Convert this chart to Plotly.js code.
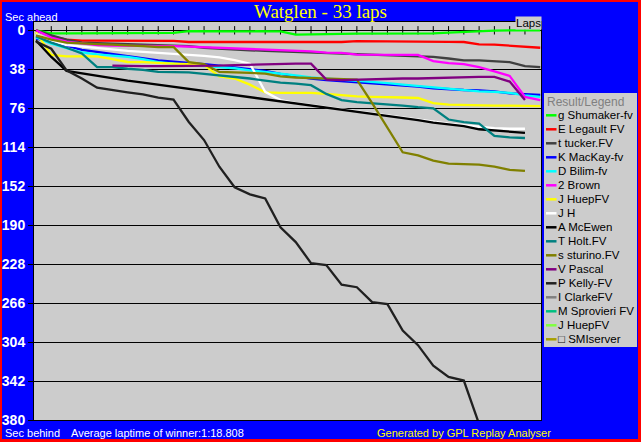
<!DOCTYPE html>
<html><head><meta charset="utf-8">
<script src="https://cdn.plot.ly/plotly-3.0.1.min.js"></script>
<style>
html,body{margin:0;padding:0;background:#0000FF;overflow:hidden}
#wrap{position:relative;width:641px;height:442px}
#chart{position:absolute;left:0;top:0;width:641px;height:442px}
#frame{position:absolute;left:0;top:0;width:641px;height:442px;box-sizing:border-box;border-style:solid;border-color:#FF0000;border-width:2px 3px 3px 2px;pointer-events:none}
</style></head><body>
<div id="wrap"><div id="chart"></div><div id="frame"></div></div>
<script>
// ---- data ----
const laps = [0,1,2,3,4,5,6,7,8,9,10,11,12,13,14,15,16,17,18,19,20,21,22,23,24,25,26,27,28,29,30,31,32,33];
const lapTicks = [1,2,3,4,5,6,7,8,9,10,11,12,13,14,15,16,17,18,19,20,21,22,23,24,25,26,27,28,29,30,31,32];
const yTicks = [0,38,76,114,152,190,228,266,304,342,380];

const names = ['g Shumaker-fv','E Legault FV','t tucker.FV','K MacKay-fv','D Bilim-fv','2 Brown','J HuepFV','J H','A McEwen','T Holt.FV','s sturino.FV','V Pascal','P Kelly-FV','I ClarkeFV','M Sprovieri FV','J HuepFV','\u25A1 SMIserver'];
const colors = ['#00FF00','#FF0000','#404040','#0000FF','#00FFFF','#FF00FF','#FFFF00','#FFFFFF','#000000','#008080','#808000','#800080','#202020','#808080','#00C080','#80FF40','#A8A000'];

const shumaker  = [0,3,3,3,3,3,2.5,2.5,2.5,2.5,0.8,0.8,0.8,0.8,0.8,0.8,1,4.2,4.2,4,3.5,3.3,3.3,3.3,3.5,3.5,3,2.3,1.5,1,0.3,0,0,0];
const legault   = [0,6,9,10,10,10.2,10.4,10.4,10.4,10.4,11.4,11.4,11.4,11.4,11.4,11.4,11.4,11.4,11.4,11.4,11.4,10.6,10.6,10.6,10.8,11,11,11.2,11.4,13.7,14,15,15.5,17];
const tucker    = [0,5,9,12,12.5,13,13.5,14,14.5,15,15.5,17,18,19,19.5,20,20.5,21,21.8,22,23,23.5,24,24.5,24.9,25,26,27.5,29.3,29.3,30,31,35,36];
const mackay    = [8,11,15,19,21,23,25,27,29.3,30.5,31.5,33,34.5,36,38,39.5,42.5,45,47,48.5,49.5,50.5,51.5,52.5,54,55,56.5,57.5,58.2,58.7,59.5,61.5,62.5,63];
const bilim     = [7,13,17.5,21.5,23.5,24.5,26,28,31,32.5,33.5,35,35.8,37,39,40.5,42,44,46,47,48,49,50.4,51.5,53,54.3,55.5,57,58,59.5,60,61,63.4,65];
const brown     = [0,7,11,13,14.5,15,15,15.5,15.5,15.5,16,16.5,17,18,18.5,19,19.5,20,20.5,21.8,22,23.7,23.7,23.7,23.7,24,30,32,33,36,40,44.5,65,68];
const huep      = [2,24,25.4,25.4,25.4,28,30.9,31,32,32.5,33,34,45,47,53,60.5,61,61,61,62,63.5,64.5,65,65,65.5,66,71,72.5,73,73,73.5,73.5,74,74];
const jh        = [4,10,14.5,16,17.5,19,20,21,22,22.8,23.5,25,26.5,29,32.5,60,68,71,73,75,77,79,81,83.5,85.5,87.5,89.5,91,92.5,94,95.5,96,96];
const mcewen    = [10,26,39.5,42,44.5,47,49,51,53,55.5,57.5,59.5,61.5,63,65,67,69.5,71.5,73.5,75.5,77.5,79,81,83.5,85.5,87.5,90,92,93.5,96.5,97.5,98.5,100];
const holt      = [6,12,17,22.5,35.8,36,37.5,38.5,40.6,40.6,41,42.5,44,45,47,49,51,52,53.5,62,68,70,71,72.5,73.5,75,76,87,89.5,91,103,104.5,105];
const sturino   = [5,9,12,13,13.5,14,14.5,15.5,16.3,16.3,31,33,40.6,40.8,41.5,42.3,45,46,46.5,47,47.5,48,71,95,119,122,127,130,130.5,131,133,136,137];
const pascal    = [null,null,null,null,null,34.5,35,35,35,35,35,35,34.5,34,33.5,33.3,33,32.5,32.5,48,48.5,48,47.5,47,47,47,46.5,46,45.5,45.5,45.5,50,68];
const kelly     = [11,18,39,47,56,58.5,60.5,62.5,65.7,67.6,89.4,107,133,153,160,164,192,206.5,227,229,248,250.5,265,267,292.7,307,327,338,341.5,384];
const clarke    = [];
const sprovieri = [];
const huep2     = [];
const smiserver = [];

const seriesList = [shumaker,legault,tucker,mackay,bilim,brown,huep,jh,mcewen,holt,sturino,pascal,kelly,clarke,sprovieri,huep2,smiserver];

// ---- geometry helpers (pixel -> paper) ----
const PL=34, PR=541, PT=22, PB=420;
const fx = px => (px-PL)/(PR-PL);
const fy = py => (PB-py)/(PB-PT);
const SANS = 'Liberation Sans, Arial, sans-serif';

const traces = [{
  type:'scatter', mode:'markers', x: lapTicks, y: lapTicks.map(()=>0),
  marker:{symbol:'line-ns', size:6, color:'#000000', line:{width:1,color:'#000000'}},
  showlegend:false, hoverinfo:'skip'
}];
seriesList.forEach((s,i)=>{
  traces.push({type:'scatter', mode:'lines', x: laps.slice(0,s.length), y: s, name: names[i],
    line:{color:colors[i], width:2.3}, connectgaps:false, showlegend:false, hoverinfo:'skip'});
});

const txt = (t, x, y, opts={}) => Object.assign({text:t, xref:'paper', yref:'paper', x:fx(x), y:fy(y),
  xanchor:'left', yanchor:'middle', showarrow:false, borderpad:0,
  font:{family:SANS, size:11, color:'#FFFFFF'}}, opts);

const annotations = [
  txt('Sec ahead', 4, 16.5),
  txt('Laps', 541.5, 23, {xanchor:'right', bgcolor:'#CCCCCC', font:{family:SANS, size:11.5, color:'#000000'}}),
  txt('Sec behind', 4, 433),
  txt('Average laptime of winner:1:18.808', 70, 433),
  txt('Generated by GPL Replay Analyser', 376, 433, {font:{family:SANS, size:11, color:'#FFFF00'}}),
  txt('Result/Legend', 545.5, 101.5, {font:{family:SANS, size:12, color:'#808080'}})
];
const shapes = [
  {type:'rect', xref:'paper', yref:'paper', x0:fx(544), x1:fx(637), y0:fy(347), y1:fy(93), fillcolor:'#CCCCCC', line:{width:0}}
];
names.forEach((n,i)=>{
  const yy = 115.3 + i*14;
  annotations.push(txt(n, 557, yy, {font:{family:SANS, size:11.5, color:'#000000'}}));
  shapes.push({type:'line', xref:'paper', yref:'paper', x0:fx(546), x1:fx(556.5), y0:fy(yy), y1:fy(yy), line:{color:colors[i], width:2.5}});
});

const layout = {
  width:641, height:442,
  margin:{l:PL, r:641-PR, t:PT, b:442-PB, pad:0},
  paper_bgcolor:'#0000FF', plot_bgcolor:'#CCCCCC',
  title:{text:'Watglen - 33 laps', font:{family:'Liberation Serif, Times New Roman, serif', size:19, color:'#FFFF00'},
         x:0.5, xref:'container', xanchor:'center', y:1-11.5/442, yref:'container', yanchor:'middle'},
  showlegend:false,
  xaxis:{range:[-0.13,33.05], showgrid:false, zeroline:false, showticklabels:false, ticks:'',
         showline:true, mirror:true, linecolor:'#000000', linewidth:1, fixedrange:true},
  yaxis:{range:[380,-8.1], tickmode:'array', tickvals:yTicks, ticktext:yTicks.map(String),
         ticks:'outside', ticklen:5, tickwidth:1, tickcolor:'#000000',
         showgrid:true, gridcolor:'#000000', gridwidth:1, zeroline:false,
         showline:true, mirror:true, linecolor:'#000000', linewidth:1,
         tickfont:{family:'Liberation Sans Narrow, Liberation Sans, Arial Narrow, sans-serif', size:14, color:'#FFFFFF', weight:'bold'}, fixedrange:true},
  annotations: annotations,
  shapes: shapes
};
Plotly.newPlot('chart', traces, layout, {displayModeBar:false, staticPlot:true});
</script></body></html>
